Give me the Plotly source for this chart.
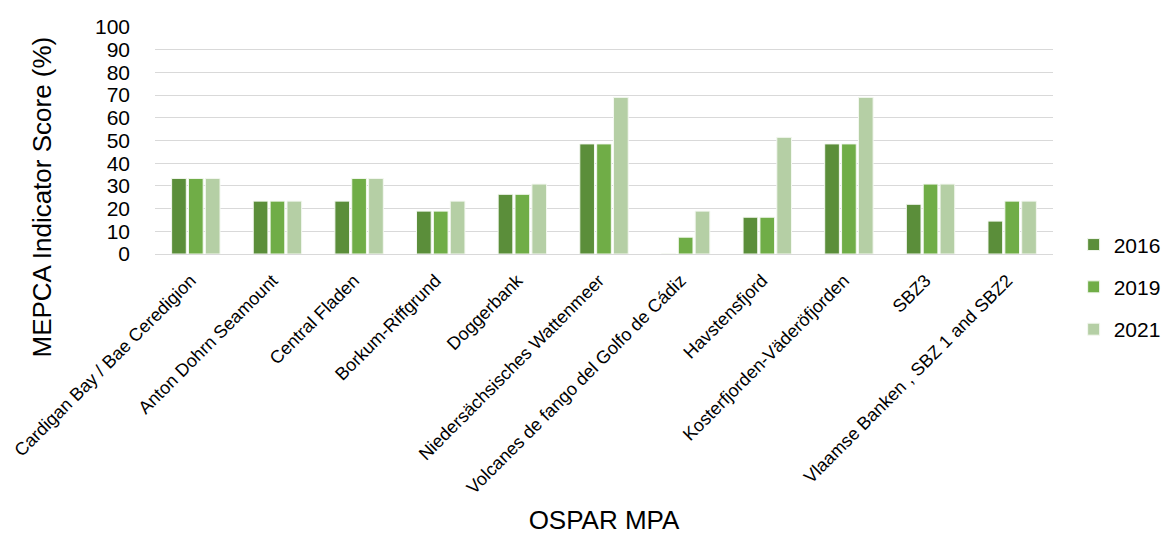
import plotly.graph_objects as go

# OSPAR MPA names and MEPCA indicator scores (%) per assessment year
mpas = [
    "Cardigan Bay / Bae Ceredigion",
    "Anton Dohrn Seamount",
    "Central Fladen",
    "Borkum-Riffgrund",
    "Doggerbank",
    "Niedersächsisches Wattenmeer",
    "Volcanes de fango del Golfo de Cádiz",
    "Havstensfjord",
    "Kosterfjorden-Väderöfjorden",
    "SBZ3",
    "Vlaamse Banken , SBZ 1 and SBZ2",
]
score_2016 = [33.3, 23.3, 23.3, 18.9, 26.3, 48.5, 0, 16.2, 48.5, 21.9, 14.5]
score_2019 = [33.3, 23.3, 33.3, 18.9, 26.3, 48.5, 7.4, 16.2, 48.5, 30.8, 23.3]
score_2021 = [33.3, 23.3, 33.3, 23.3, 30.8, 69.0, 18.9, 51.4, 69.0, 30.8, 23.3]
y_ticks = list(range(0, 101, 10))

series = [
    ("2016", score_2016, "#5b8e3a"),
    ("2019", score_2019, "#70ad47"),
    ("2021", score_2021, "#b5cfa5"),
]

fig = go.Figure()
for name, vals, color in series:
    fig.add_trace(go.Bar(
        x=mpas, y=vals, name=name, legendgroup=name,
        marker=dict(color=color, line=dict(color="#f4f8f1", width=1)),
    ))

font_family = "Liberation Sans, Arial, sans-serif"

fig.update_layout(
    width=1166, height=535,
    margin=dict(l=155, r=113, t=27, b=281, autoexpand=False),
    paper_bgcolor="white", plot_bgcolor="white",
    barmode="group", bargap=0.38, bargroupgap=0.13,
    font=dict(family=font_family, color="#000000"),
    legend=dict(
        x=1.023, y=-0.145, xanchor="left", yanchor="middle",
        font=dict(size=21), tracegroupgap=12, itemwidth=30,
        traceorder="grouped",
    ),
    xaxis=dict(
        tickangle=-45, tickfont=dict(size=18),
        ticklabelstandoff=8, ticklabelshift=-5,
        showline=True, linecolor="#d9d9d9", linewidth=1,
        title=dict(text="OSPAR MPA", font=dict(size=26), standoff=21),
        automargin=False,
    ),
    yaxis=dict(
        range=[0, 100], tickvals=y_ticks, tickfont=dict(size=21),
        showgrid=True, gridcolor="#d9d9d9", gridwidth=1,
        zeroline=False, ticks="", ticklen=0, ticklabelstandoff=24,
        automargin=False,
    ),
    # y-axis title placed as a rotated annotation, centred lower than the plot area
    annotations=[dict(
        text="MEPCA Indicator Score (%)", textangle=-90,
        xref="paper", yref="paper", x=-0.1258, y=0.249,
        xanchor="center", yanchor="middle", showarrow=False,
        font=dict(size=26),
    )],
)

fig.write_html("out.html")
